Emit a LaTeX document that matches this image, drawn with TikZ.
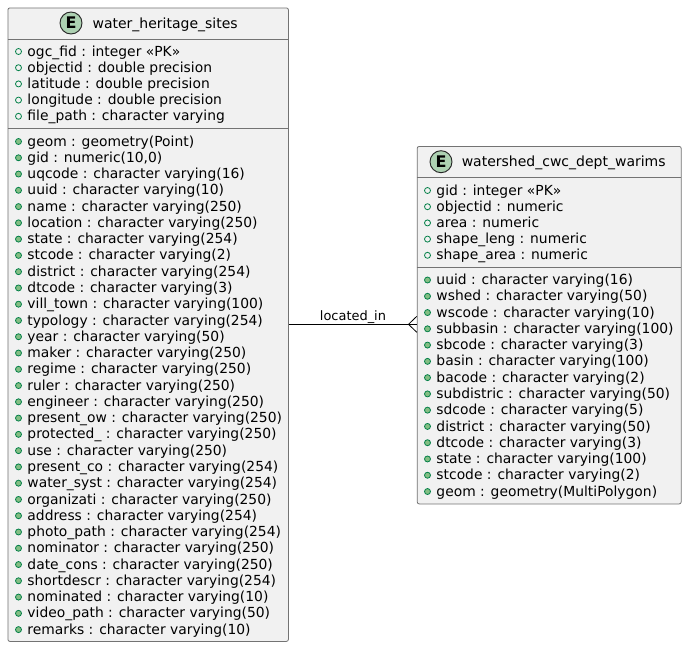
\documentclass[tikz,border=0pt]{standalone}
\usepackage{fontspec}
\setmainfont{DejaVu Sans}
\begin{document}
\begin{tikzpicture}[x=0.75pt,y=-0.75pt,
  entitybox/.style={draw=black!55,line width=0.6pt,fill=boxbg,rounded corners=1.5pt,inner sep=0pt,minimum width=#1},
  rowtext/.style={anchor=base west,inner sep=0pt,font=\fontsize{10.4}{12}\selectfont,text=black},
  titletext/.style={anchor=base west,inner sep=0pt,font=\fontsize{10.5}{12}\selectfont,text=black},
  edgetext/.style={anchor=base,inner sep=0pt,font=\fontsize{9.7}{12}\selectfont,text=black},
  openmark/.style={draw=markgreen,line width=0.6pt,fill=none},
  fullmark/.style={draw=markgreen,line width=0.6pt,fill=markfill},
  badge/.style={circle,draw=black!85,line width=0.7pt,fill=badgefill,inner sep=0pt,minimum size=16.5pt,font=\fontsize{12}{12}\bfseries\selectfont},
  sepline/.style={draw=black!55,line width=0.6pt},
  relation/.style={draw=black,line width=0.7pt}]
\definecolor{boxbg}{HTML}{F1F1F1}
\definecolor{markgreen}{HTML}{038048}
\definecolor{markfill}{HTML}{84BE84}
\definecolor{badgefill}{HTML}{ADD1B2}
\useasboundingbox (0,0) rectangle (686,647);
\fill[white] (0,0) rectangle (686,647);
% entity boxes
\node[entitybox=280.5pt*0.75,minimum height=633.5pt*0.75,anchor=north west] (sites) at (7.5,7.5) {};
\node[entitybox=264pt*0.75,minimum height=357.5pt*0.75,anchor=north west] (shed) at (416.8,146) {};
\draw[sepline] (7.5,39.5) -- (288,39.5) (7.5,128.5) -- (288,128.5);
\draw[sepline] (416.8,177.5) -- (680.8,177.5) (416.8,267) -- (680.8,267);
% titles
\node[badge] (badgeA) at (71,23) {E};
\node[titletext] (titleA) at (92.3,28) {water\_heritage\_sites};
\node[badge] (badgeB) at (441,161.7) {E};
\node[titletext] (titleB) at (461.5,166.5) {watershed\_cwc\_dept\_warims};
% rows
\newcommand{\rowsat}[5]{%
  \foreach \t [count=\i from 0] in {#5} {
    \pgfmathsetmacro{\yy}{#2+\i*#3}
    \path[#4] (#1,\yy) circle (3pt*0.75);
    \node[rowtext] at (#1+8.7,\yy+4.6) {\t};
  }}
\rowsat{18.5}{51.5}{16.2}{openmark}{{ogc\_fid : integer «PK»},{objectid : double precision},{latitude : double precision},{longitude : double precision},{file\_path : character varying}}
\rowsat{18.5}{141.5}{16.27}{fullmark}{{geom : geometry(Point)},{gid : numeric(10,0)},{uqcode : character varying(16)},{uuid : character varying(10)},{name : character varying(250)},{location : character varying(250)},{state : character varying(254)},{stcode : character varying(2)},{district : character varying(254)},{dtcode : character varying(3)},{vill\_town : character varying(100)},{typology : character varying(254)},{year : character varying(50)},{maker : character varying(250)},{regime : character varying(250)},{ruler : character varying(250)},{engineer : character varying(250)},{present\_ow : character varying(250)},{protected\_ : character varying(250)},{use : character varying(250)},{present\_co : character varying(254)},{water\_syst : character varying(254)},{organizati : character varying(250)},{address : character varying(254)},{photo\_path : character varying(254)},{nominator : character varying(250)},{date\_cons : character varying(250)},{shortdescr : character varying(254)},{nominated : character varying(10)},{video\_path : character varying(50)},{remarks : character varying(10)}}
\rowsat{427.5}{190.5}{16.2}{openmark}{{gid : integer «PK»},{objectid : numeric},{area : numeric},{shape\_leng : numeric},{shape\_area : numeric}}
\rowsat{427.5}{280}{16.27}{fullmark}{{uuid : character varying(16)},{wshed : character varying(50)},{wscode : character varying(10)},{subbasin : character varying(100)},{sbcode : character varying(3)},{basin : character varying(100)},{bacode : character varying(2)},{subdistric : character varying(50)},{sdcode : character varying(5)},{district : character varying(50)},{dtcode : character varying(3)},{state : character varying(100)},{stcode : character varying(2)},{geom : geometry(MultiPolygon)}}
% relation
\coordinate (tip) at (408.5,324.3);
\draw[relation] (sites.east |- tip) -- (shed.west |- tip);
\draw[relation,line width=0.6pt] (shed.west |- 0,316.3) -- (tip) -- (shed.west |- 0,332.3);
\node[edgetext] (rel) at (353,320) {located\_in};
\end{tikzpicture}
\end{document}
